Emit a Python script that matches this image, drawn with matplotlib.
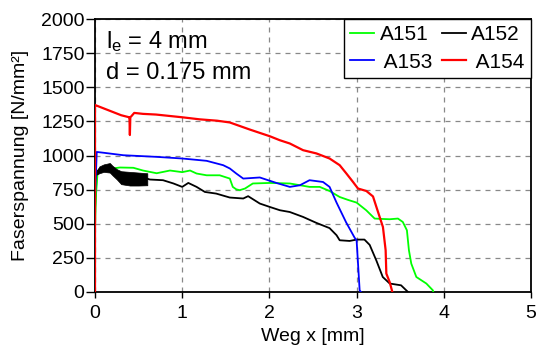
import matplotlib
matplotlib.use("Agg")
import matplotlib.pyplot as plt

plt.rcParams['font.family'] = ['Liberation Sans', 'DejaVu Sans']
plt.rcParams['mathtext.fontset'] = 'custom'
plt.rcParams['mathtext.rm'] = 'Liberation Sans'
plt.rcParams['mathtext.it'] = 'Liberation Sans'

# ---- data ----
a151_x = [0.0, 0.01, 0.03, 0.1, 0.2, 0.286, 0.44, 0.55, 0.707, 0.86, 1.0, 1.09, 1.165, 1.28, 1.43,
          1.546, 1.58, 1.62, 1.66, 1.72, 1.81, 2.005, 2.234, 2.46, 2.577, 2.69, 2.806, 2.9, 3.0,
          3.11, 3.207, 3.30, 3.38, 3.474, 3.53, 3.577, 3.60, 3.627, 3.685, 3.80, 3.875, 3.88]
a151_y = [452, 700, 880, 900, 905, 912, 910, 890, 870, 890, 878, 890, 868, 855, 855,
          831, 770, 752, 746, 758, 795, 799, 795, 770, 770, 740, 696, 675, 655,
          599, 538, 535, 533, 538, 513, 452, 306, 208, 110, 62, 12, 0]

a152_x = [0.0, 0.0, 0.02, 0.05, 0.1, 0.17, 0.25, 0.3, 0.45, 0.6, 0.63, 0.78, 0.90, 1.0, 1.07,
          1.165, 1.26, 1.39, 1.546, 1.70, 1.756, 1.89, 2.005, 2.12, 2.234, 2.386, 2.54, 2.69,
          2.77, 2.806, 2.92, 3.0, 3.09, 3.15, 3.227, 3.30, 3.38, 3.51, 3.57, 3.59]
a152_y = [0, 600, 880, 900, 910, 910, 880, 850, 840, 830, 824, 819, 795, 770, 799,
          770, 733, 721, 692, 685, 702, 648, 623, 599, 586, 550, 506, 468,
          416, 379, 374, 384, 384, 345, 230, 110, 62, 49, 12, 0]
# envelope of the oscillating start of A152
a152_band_x = [0.02, 0.05, 0.1, 0.17, 0.2, 0.25, 0.3, 0.4, 0.5, 0.6]
a152_band_hi = [885, 920, 935, 945, 925, 900, 885, 880, 875, 870]
a152_band_lo = [860, 870, 880, 875, 855, 825, 790, 780, 780, 782]

a153_x = [0.0, 0.0, 0.02, 0.1, 0.325, 0.707, 1.0, 1.28, 1.47, 1.546, 1.62, 1.70, 1.89, 2.08,
          2.234, 2.35, 2.46, 2.615, 2.69, 2.77, 2.88, 2.978, 3.0, 3.035, 3.05]
a153_y = [500, 680, 1026, 1020, 1002, 990, 978, 961, 929, 905, 868, 831, 839, 799,
          770, 782, 819, 806, 770, 655, 510, 397, 379, 12, 0]

a154_x = [0.0, 0.0, 0.02, 0.1, 0.2, 0.3, 0.38, 0.395, 0.40, 0.405, 0.42, 0.45, 0.55, 0.7, 0.85,
          1.0, 1.2, 1.4, 1.546, 1.776, 2.005, 2.119, 2.234, 2.386, 2.54, 2.69, 2.806, 2.883,
          2.959, 3.016, 3.112, 3.188, 3.227, 3.302, 3.333, 3.341, 3.379, 3.41]
a154_y = [0, 1370, 1365, 1345, 1320, 1295, 1282, 1280, 1150, 1280, 1290, 1312, 1305, 1300, 1290,
          1280, 1265, 1255, 1242, 1190, 1141, 1112, 1088, 1039, 1015, 978, 929, 868,
          806, 758, 740, 700, 623, 476, 306, 135, 73, 0]

series_labels = ['A151', 'A152', ' A153', ' A154']
x_ticks = [0, 1, 2, 3, 4, 5]
y_ticks = [0, 250, 500, 750, 1000, 1250, 1500, 1750, 2000]

# ---- figure ----
fig = plt.figure(figsize=(5.38, 3.55), dpi=100)
ax = fig.add_axes([95/538, 1-292/355, 436/538, 273/355])

lw = 1.3
ax.fill_between(a152_band_x, a152_band_lo, a152_band_hi, color='black', lw=0.5, zorder=3.5)
l1, = ax.plot(a151_x, a151_y, color='#00ff00', lw=lw, label=series_labels[0], zorder=3)
l2, = ax.plot(a152_x, a152_y, color='black', lw=lw, label=series_labels[1], zorder=2)
l3, = ax.plot(a153_x, a153_y, color='#0000ff', lw=lw, label=series_labels[2], zorder=3)
l4, = ax.plot(a154_x, a154_y, color='#ff0000', lw=lw + 0.3, label=series_labels[3], zorder=4)

ax.set_xlim(0, 5)
ax.set_ylim(0, 2000)
ax.set_xticks(x_ticks)
ax.set_yticks(y_ticks)
ax.tick_params(labelsize=14, width=1, direction='out', color='black')
ax.tick_params(axis='x', length=4.5, pad=5)
ax.tick_params(axis='y', length=6.5, pad=1)
ax.grid(True, color='#888888', linestyle=(0, (4, 4)), lw=0.9)
for s in ax.spines.values():
    s.set_linewidth(1.3)

ax.set_xlabel('Weg x [mm]', fontsize=14, labelpad=4)
ax.set_ylabel('Faserspannung [N/mm²]', fontsize=14)
ax.yaxis.set_label_coords(-0.152, 0.5)

ax.text(0.025, 0.893, r'$\mathregular{l_e}$ = 4 mm', transform=ax.transAxes,
        fontsize=17, va='baseline', ha='left')
ax.text(0.025, 0.780, 'd = 0.175 mm', transform=ax.transAxes,
        fontsize=17, va='baseline', ha='left')

leg = ax.legend(handles=[l1, l3, l2, l4], ncol=2, loc='upper right', fontsize=15,
                frameon=True, fancybox=False, edgecolor='black', framealpha=1,
                borderaxespad=0, handlelength=1.15, handletextpad=0.25,
                columnspacing=0.45, borderpad=0.3, labelspacing=0.4)
leg.get_frame().set_linewidth(1.0)

fig.savefig('out.png', dpi=100)
